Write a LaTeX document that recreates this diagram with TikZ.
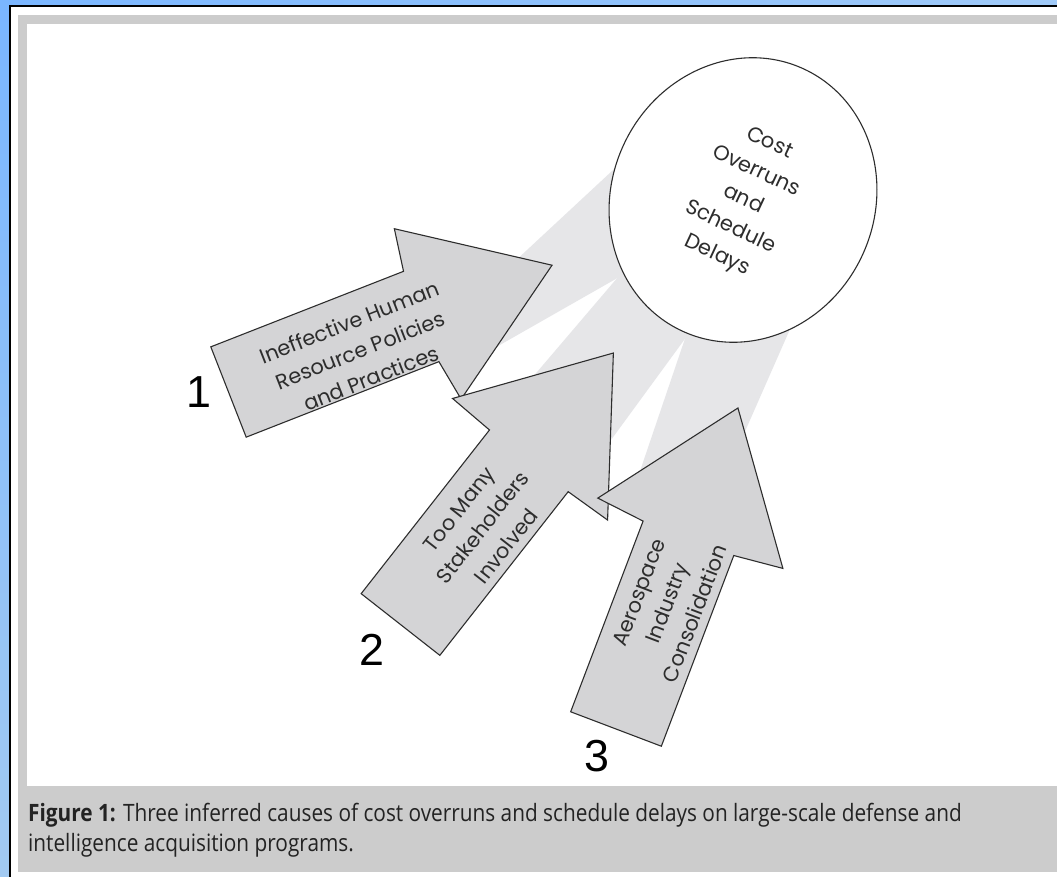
\documentclass[tikz,border=0pt]{standalone}
\usepackage{fontspec}
\usepackage{xcolor}
\usepackage{tikz}
\usetikzlibrary{shapes.geometric}
\newfontfamily\gothic{Poppins}
\newfontfamily\capfont[FakeStretch=0.87]{Open Sans}
\newfontfamily\numfont{Liberation Sans}
\definecolor{sky_left}{RGB}{122,182,255}
\definecolor{sky_right}{RGB}{160,202,248}
\definecolor{sky_low}{RGB}{162,202,242}
\definecolor{frame_gray}{RGB}{204,204,204}
\definecolor{beam_gray}{RGB}{230,230,232}
\definecolor{arrow_gray}{RGB}{212,212,214}
\definecolor{ink_gray}{RGB}{45,45,45}
\definecolor{cap_ink}{RGB}{35,35,35}

\begin{document}
\begin{tikzpicture}[x=1bp, y=-1bp,
  causearrow/.style={fill=arrow_gray, draw=ink_gray, line width=1.1pt},
  beam/.style={fill=beam_gray},
  causetext/.style={align=center, text=ink_gray, font=\gothic\fontsize{21}{30}\selectfont},
  number/.style={font=\numfont\fontsize{45}{45}\selectfont}]

  \useasboundingbox (0,0) rectangle (1057,877);
  \clip (0,0) rectangle (1057,877);
  % Slide background and figure panel
  \shade[left color=sky_left, right color=sky_right] (0,0) rectangle (1057,877);
  \shade[top color=sky_left, bottom color=sky_low] (0,0) rectangle (10,877);
  \fill[white, draw=black, line width=2pt] (10,6) rectangle (1080,900);
  \fill[frame_gray] (18,15) rectangle (1080,872);
  \fill[white] (27,24) rectangle (1080,786);

  % Light beams behind the arrows
  \fill[beam] (626,158) -- (635,268) -- (470,362) -- (470,303) -- cycle;
  \fill[beam] (630,263) -- (698,321) -- (600,455) -- (520,392) -- cycle;
  \fill[beam] (692,318) -- (805,295) -- (739,445) -- (637,480) -- cycle;

  % Effect
  \node[ellipse, draw=ink_gray, fill=white, line width=1.1pt,
    minimum width=264, minimum height=290, rotate=-25, align=center,
    text=ink_gray, font=\gothic\fontsize{21}{31}\selectfont]
    (goal) at (743,200) {Cost\\Overruns\\and\\Schedule\\Delays};

  % Cause 1
  \begin{scope}[shift={(228.5,392)}, rotate=21.4]
    \draw[causearrow] (0,-48.5) -- (207,-48.5) -- (214,-91.5) -- (347.5,0)
      -- (214,91.5) -- (207,48.5) -- (0,48.5) -- cycle;
    \node[causetext, rotate=21.4] (cause1) at (138,9)
      {Ineffective Human\\Resource Policies\\and Practices};
  \end{scope}
  % Cause 2
  \begin{scope}[shift={(400.5,624.5)}, rotate=51.9]
    \draw[causearrow] (0,-50) -- (208,-50) -- (210,-98.5) -- (345,0)
      -- (210,98.5) -- (208,50) -- (0,50) -- cycle;
    \node[causetext, rotate=51.9] (cause2) at (127,5)
      {Too Many\\Stakeholders\\Involved};
  \end{scope}
  % Cause 3
  \begin{scope}[shift={(616,729)}, rotate=69.2]
    \draw[causearrow] (0,-48.5) -- (204,-48.5) -- (209.4,-99) -- (343.4,0)
      -- (209.4,99) -- (204,48.5) -- (0,48.5) -- cycle;
    \node[causetext, rotate=69.2] (cause3) at (136,3)
      {Aerospace\\Industry\\Consolidation};
  \end{scope}

  % Numbering
  \node[number] (num1) at (199,392) {1};
  \node[number] (num2) at (372,650) {2};
  \node[number] (num3) at (597,756) {3};

  % Caption
  \node[anchor=north west, inner sep=0, align=left, text=cap_ink,
    font=\capfont\fontsize{24}{30}\selectfont] (caption) at (28,803)
    {\textbf{Figure 1:} Three inferred causes of cost overruns and schedule delays on large-scale defense and\\intelligence acquisition programs.};
\end{tikzpicture}
\end{document}
